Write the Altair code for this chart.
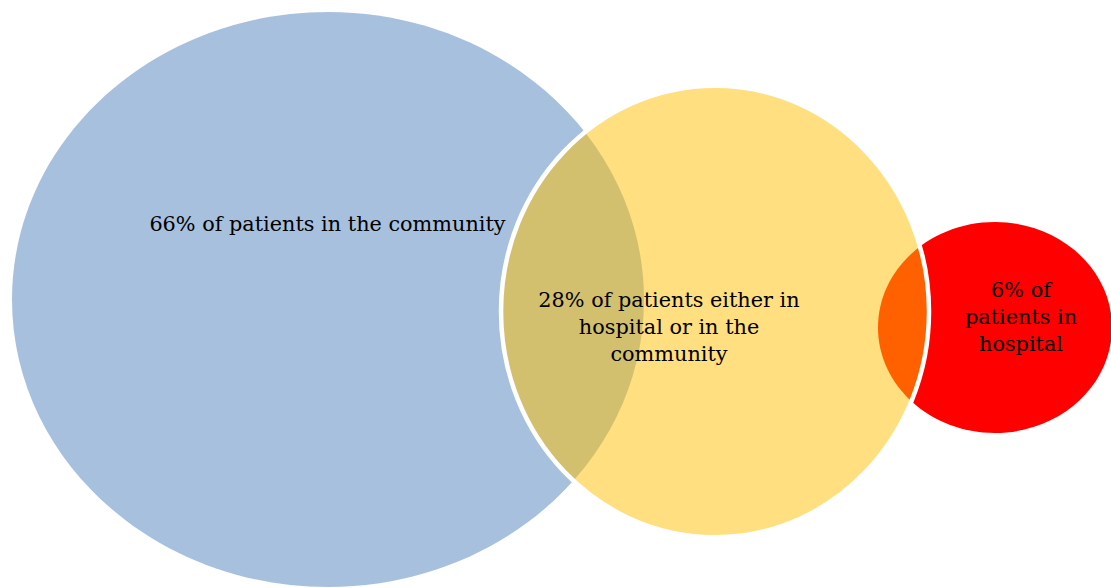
import altair as alt
import pandas as pd

# ---- data ----
groups = ["community", "either", "hospital"]
percents = [66, 28, 6]
label_lines = [
    ["{}% of patients in the community"],
    ["{}% of patients either in", "hospital or in the", "community"],
    ["{}% of", "patients in", "hospital"],
]

# ellipse geometry (pixel-like units of the drawing canvas)
centre_x = [328, 715, 995]
centre_y = [299.5, 311.5, 327.5]
radius_x = [316, 214, 117]
radius_y = [287.5, 225.75, 105.5]
fills = ["#4F81BD", "#FFC000", "#FF0000"]
fill_opacity = [0.5, 0.5, 1.0]

# label anchors (first-line baseline)
label_x = [327.5, 669, 1021]
label_y = [231, 307, 297]

W, H = 1111, 588


def ellipse_path(k):
    c = 0.5523
    return (f"M-1,0 C-1,{-c*k:.4f} {-c:.4f},{-k:.4f} 0,{-k:.4f} "
            f"C{c:.4f},{-k:.4f} 1,{-c*k:.4f} 1,0 "
            f"C1,{c*k:.4f} {c:.4f},{k:.4f} 0,{k:.4f} "
            f"C{-c:.4f},{k:.4f} -1,{c*k:.4f} -1,0 Z")


shapes = pd.DataFrame({
    "group": groups,
    "cx": centre_x,
    "cy": centre_y,
    "path": [ellipse_path(ry / rx) for rx, ry in zip(radius_x, radius_y)],
    "size": [(2 * rx) ** 2 for rx in radius_x],
})

labels = pd.DataFrame({
    "group": groups,
    "text": ["\n".join(lines).format(p) for lines, p in zip(label_lines, percents)],
    "x": label_x,
    "y": label_y,
})

xs = alt.Scale(domain=[0, W], nice=False, zero=False)
ys = alt.Scale(domain=[0, H], nice=False, zero=False, reverse=True)


def ellipse_layer(i, stroke=None):
    kw = dict(filled=True, fill=fills[i], fillOpacity=fill_opacity[i], opacity=1)
    if stroke:
        kw.update(stroke="white", strokeWidth=4.5, strokeOpacity=1)
    else:
        kw.update(strokeWidth=0)
    return alt.Chart(shapes).transform_filter(
        alt.datum.group == groups[i]
    ).mark_point(**kw).encode(
        x=alt.X("cx:Q", scale=xs, axis=None),
        y=alt.Y("cy:Q", scale=ys, axis=None),
        shape=alt.Shape("path:N", scale=None),
        size=alt.Size("size:Q", scale=None),
    )


text = alt.Chart(labels).mark_text(
    align="center", baseline="alphabetic", font="DejaVu Serif",
    fontSize=20.8, lineHeight=27, lineBreak="\n", color="black",
).encode(
    x=alt.X("x:Q", scale=xs, axis=None),
    y=alt.Y("y:Q", scale=ys, axis=None),
    text="text:N",
)

chart = alt.layer(
    ellipse_layer(0), ellipse_layer(2), ellipse_layer(1, stroke=True), text
).properties(
    width=W, height=H, padding=0, autosize=alt.AutoSizeParams(type="none"),
    background="white",
).configure_view(stroke=None)

chart.save("out.html", embed_options={"renderer": "svg", "actions": False})
